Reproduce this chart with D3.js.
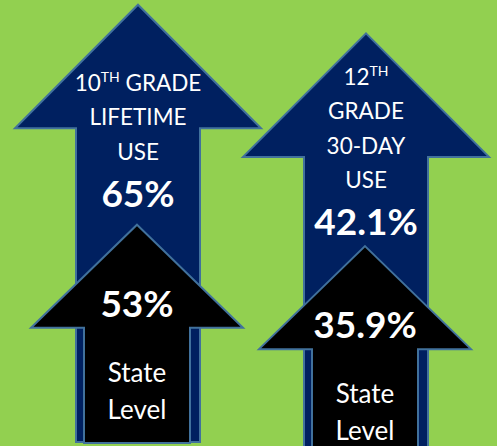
<!DOCTYPE html>
<html>
<head>
<meta charset="utf-8">
<script src="https://cdn.jsdelivr.net/npm/d3@7"></script>
<style>
  html, body { margin: 0; padding: 0; background: #92d050; }
  svg { display: block; }
</style>
</head>
<body>
<div id="chart"></div>
<script>
// Data
const grades = ['10TH', '12TH'];
const gradeLabels = [
    ['10^TH GRADE', 'LIFETIME', 'USE'],
    ['12^TH', 'GRADE', '30-DAY', 'USE']
];
const gradeValues = [65, 42.1];
const stateValues = [53, 35.9];
const stateLabel = ['State', 'Level'];

const width = 497;
const height = 446;
const font = 'Lato, "Open Sans", sans-serif';

const svg = d3.select('#chart')
    .append('svg')
    .attr('width', width)
    .attr('height', height);

svg.append('rect')
    .attr('width', width)
    .attr('height', height)
    .attr('fill', '#92d050');

// x position of each group
const x = d3.scalePoint()
    .domain(grades)
    .range([138, 366]);

// arrow height grows with the value
const lift = d3.scaleLinear()
    .domain([0, 100])
    .range([0, 125]);

const gradeBase = 86;   // tip y for value 0 (grade arrows)
const stateBase = 291;  // tip y for value 0 (state arrows)
const bottoms = [442, 455];

function arrowPath(cx, tip, bottom, headHalf, headH, shaftHalf) {
    const hb = tip + headH;
    return `M${cx},${tip} L${cx + headHalf},${hb} L${cx + shaftHalf},${hb} ` +
        `L${cx + shaftHalf},${bottom} L${cx - shaftHalf},${bottom} ` +
        `L${cx - shaftHalf},${hb} L${cx - headHalf},${hb} Z`;
}

const stroke = '#41719c';

// grade arrows (navy)
grades.forEach(function (g, i) {
    const cx = x(g);
    const tip = gradeBase - lift(gradeValues[i]);
    const grp = svg.append('g');

    grp.append('path')
        .attr('d', arrowPath(cx, tip, bottoms[i], 123, 123.5, 62))
        .attr('fill', '#002060')
        .attr('stroke', stroke)
        .attr('stroke-width', 2);

    const valueY = tip + 202;
    const lines = gradeLabels[i];
    lines.forEach(function (line, j) {
        const y = valueY - 47 - (lines.length - 1 - j) * 34.5;
        const t = grp.append('text')
            .attr('x', cx)
            .attr('y', y)
            .attr('text-anchor', 'middle')
            .attr('fill', '#fff')
            .attr('font-family', font)
            .attr('font-size', '22.5px');
        const parts = line.split(/\^(TH)/);
        if (parts.length > 1) {
            t.append('tspan').text(parts[0]);
            t.append('tspan').attr('font-size', '14px').attr('dy', -9).text(parts[1]);
            if (parts[2]) t.append('tspan').attr('dy', 9).text(parts[2]);
        } else {
            t.text(line);
        }
    });

    grp.append('text')
        .attr('x', cx)
        .attr('y', valueY)
        .attr('text-anchor', 'middle')
        .attr('fill', '#fff')
        .attr('font-family', font)
        .attr('font-weight', 'bold')
        .attr('font-size', '37px')
        .text(gradeValues[i] + '%');
});

// state arrows (black)
grades.forEach(function (g, i) {
    const cx = x(g) - 1;
    const tip = stateBase - lift(stateValues[i]);
    const headBase = tip + 103;
    const grp = svg.append('g');

    grp.append('path')
        .attr('d', arrowPath(cx, tip, bottoms[i] + 1, 106, 103, 53))
        .attr('fill', '#000')
        .attr('stroke', stroke)
        .attr('stroke-width', 2);

    grp.append('text')
        .attr('x', cx)
        .attr('y', headBase - 11)
        .attr('text-anchor', 'middle')
        .attr('fill', '#fff')
        .attr('font-family', font)
        .attr('font-weight', 'bold')
        .attr('font-size', '37px')
        .text(stateValues[i] + '%');

    stateLabel.forEach(function (s, j) {
        grp.append('text')
            .attr('x', cx)
            .attr('y', headBase + 54 + j * 37)
            .attr('text-anchor', 'middle')
            .attr('fill', '#fff')
            .attr('font-family', font)
            .attr('font-size', '26px')
            .text(s);
    });
});
</script>
</body>
</html>
